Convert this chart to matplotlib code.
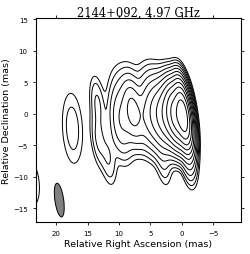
import numpy as np
import matplotlib
matplotlib.use("Agg")
import matplotlib.pyplot as plt
from matplotlib.patches import Ellipse

# clean beam (mas, deg)
beam_major = 5.4
beam_minor = 1.4
beam_pa = 8.0
beam_pos = (19.5, -13.7)

# gaussian components: RA, Dec (mas), peak (units of lowest contour),
# extra FWHM in RA and Dec (mas)
comp_ra = [-0.2, -0.9, 1.0, 2.0, 3.2, 4.6, 7.8, 6.0, 9.6, 13.4, 13.3, 17.4, 24.0, 3.0, 11.7, 5.0, 9.0]
comp_dec = [-0.3, -5.0, -0.3, -0.3, -0.5, 0.0, 0.5, -1.0, -1.0, 1.6, -4.0, -2.3, -10.9, -7.0, -7.0, 5.0, 4.5]
comp_peak = [3500, 40, 1200, 350, 120, 45, 35, 14, 16, 4.5, 4.5, 3.0, 2.4, 4, 4, 1.5, 2.0]
comp_ex = [0, 0.3, 0.6, 1.0, 1.4, 1.8, 1.3, 3.0, 2.0, 0.6, 0.6, 2.0, 1.8, 0.8, 0.8, 4.0, 3.0]
comp_ey = [0, 3.0, 1.0, 2.0, 3.0, 4.0, 2.5, 3.0, 5.0, 2.5, 2.5, 7.0, 3.5, 2.5, 2.5, 2.0, 2.0]

levels = 2.0 ** np.arange(0, 14)

ra = np.linspace(-10, 25, 500)
dec = np.linspace(-18, 16, 500)
X, Y = np.meshgrid(ra, dec)

f = 2 * np.sqrt(2 * np.log(2))
th = np.radians(beam_pa)
u = np.array([np.sin(th), np.cos(th)])
v = np.array([np.cos(th), -np.sin(th)])
beam_cov = (beam_major / f) ** 2 * np.outer(u, u) + (beam_minor / f) ** 2 * np.outer(v, v)

img = np.zeros_like(X)
for x0, y0, p, ex, ey in zip(comp_ra, comp_dec, comp_peak, comp_ex, comp_ey):
    cov = beam_cov + np.diag([(ex / f) ** 2, (ey / f) ** 2])
    ic = np.linalg.inv(cov)
    dx = X - x0
    dy = Y - y0
    q = ic[0, 0] * dx * dx + 2 * ic[0, 1] * dx * dy + ic[1, 1] * dy * dy
    img += p * np.exp(-0.5 * q)

fig = plt.figure(figsize=(2.5, 2.55), dpi=100)
ax = fig.add_axes([0.144, 0.125, 0.82, 0.8])
ax.contour(X, Y, img, levels=levels, colors="black", linewidths=0.7)
ax.add_patch(Ellipse(beam_pos, beam_minor, beam_major, angle=-beam_pa,
                     facecolor="gray", edgecolor="black", linewidth=0.7))

ax.set_xlim(23.2, -9.4)
ax.set_ylim(-17.2, 15.2)
ax.set_xticks([20, 15, 10, 5, 0, -5])
ax.set_yticks([15, 10, 5, 0, -5, -10, -15])
ax.tick_params(labelsize=5, length=2.5, width=0.6, top=True, right=True)
ax.set_xlabel("Relative Right Ascension (mas)", fontsize=6.8, labelpad=2)
ax.set_ylabel("Relative Declination (mas)", fontsize=6.8, labelpad=1)
ax.set_title("2144+092, 4.97 GHz", fontsize=8.3, family="DejaVu Serif", pad=2)
for s in ax.spines.values():
    s.set_linewidth(0.8)

fig.savefig("out.png", dpi=100)
